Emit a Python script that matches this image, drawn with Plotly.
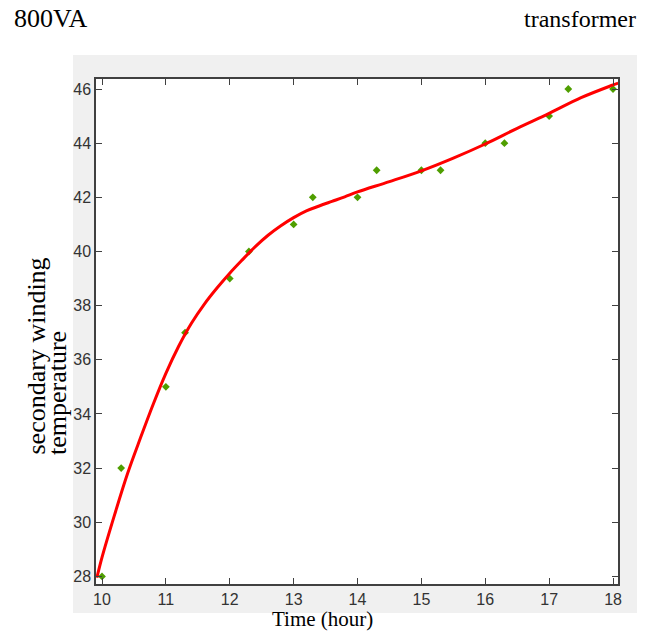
import plotly.graph_objects as go

# measured data points (green diamonds)
time_pts = [10, 10.3, 11, 11.3, 12, 12.3, 13, 13.3, 14, 14.3, 15, 15.3, 16, 16.3, 17, 17.3, 18]
temp_pts = [28, 32, 35, 37, 39, 40, 41, 42, 42, 43, 43, 43, 44, 44, 45, 46, 46]

# fitted curve (red line)
fit_time = [9.92, 10.0, 10.2, 10.4, 10.6, 10.8, 11.0, 11.2, 11.4, 11.6, 11.8, 12.0,
            12.2, 12.4, 12.6, 12.8, 13.0, 13.2, 13.4, 13.6, 13.8, 14.0, 14.5, 15.0,
            15.5, 16.0, 16.5, 17.0, 17.5, 18.0, 18.08]
fit_temp = [27.95, 28.7, 30.3, 31.8, 33.1, 34.35, 35.5, 36.5, 37.35, 38.05, 38.65, 39.2,
            39.7, 40.18, 40.6, 40.95, 41.25, 41.5, 41.68, 41.85, 42.02, 42.2, 42.58, 42.98,
            43.45, 43.97, 44.55, 45.1, 45.68, 46.15, 46.22]

x_ticks = [10, 11, 12, 13, 14, 15, 16, 17, 18]
y_ticks = [28, 30, 32, 34, 36, 38, 40, 42, 44, 46]

W, H = 655, 635
L, R, T, B = 96, 618, 79, 584


def px(x):
    return (x - L) / (R - L)


def py(y):
    return (B - y) / (B - T)


fig = go.Figure()
fig.add_trace(go.Scatter(x=time_pts, y=temp_pts, mode="markers",
                         marker=dict(symbol="diamond", size=6, color="#4f9e00"),
                         showlegend=False))
fig.add_trace(go.Scatter(x=fit_time, y=fit_temp, mode="lines",
                         line=dict(color="#ff0000", width=3, shape="spline", smoothing=1.0),
                         showlegend=False))

tickfont = dict(family="Liberation Sans Narrow, Arial Narrow, Arial, sans-serif", size=16, color="#333333")
axis_common = dict(showgrid=False, zeroline=False, showline=True, linecolor="#404040",
                   linewidth=1.5, mirror="allticks", ticks="inside", ticklen=6,
                   tickcolor="#404040", tickwidth=1.2, tickfont=tickfont)

fig.update_xaxes(range=[9.906, 18.078], tickvals=x_ticks, **axis_common)
fig.update_yaxes(range=[27.72, 46.37], tickvals=y_ticks, **axis_common)

serif = "Liberation Serif, Times New Roman, serif"
fig.add_shape(type="rect", xref="paper", yref="paper",
              x0=px(73), x1=px(637), y0=py(613), y1=py(55),
              fillcolor="#f0f0f0", line=dict(width=0), layer="below")
fig.add_shape(type="rect", xref="paper", yref="paper",
              x0=0, x1=1, y0=0, y1=1,
              fillcolor="white", line=dict(width=0), layer="below")

annots = [
    dict(text="800VA", x=px(12), y=py(19), xanchor="left", yanchor="middle",
         font=dict(family=serif, size=26, color="#000")),
    dict(text="transformer", x=px(638), y=py(19), xanchor="right", yanchor="middle",
         font=dict(family=serif, size=24, color="#000")),
    dict(text="Time (hour)", x=px(322), y=py(619), xanchor="center", yanchor="middle",
         font=dict(family=serif, size=21, color="#000")),
    dict(text="secondary winding", x=px(36), y=py(457), xanchor="center", yanchor="bottom",
         textangle=-90, font=dict(family=serif, size=26, color="#000")),
    dict(text="temperature", x=px(57), y=py(457), xanchor="center", yanchor="bottom",
         textangle=-90, font=dict(family=serif, size=26, color="#000")),
]
for a in annots:
    fig.add_annotation(xref="paper", yref="paper", showarrow=False, **a)

fig.update_layout(width=W, height=H, paper_bgcolor="white", plot_bgcolor="white",
                  margin=dict(l=L, r=W - R, t=T, b=H - B))

fig.write_html("out.html", config={"displayModeBar": False},
               post_script="document.body.style.margin='0';document.body.style.overflow='hidden';")
